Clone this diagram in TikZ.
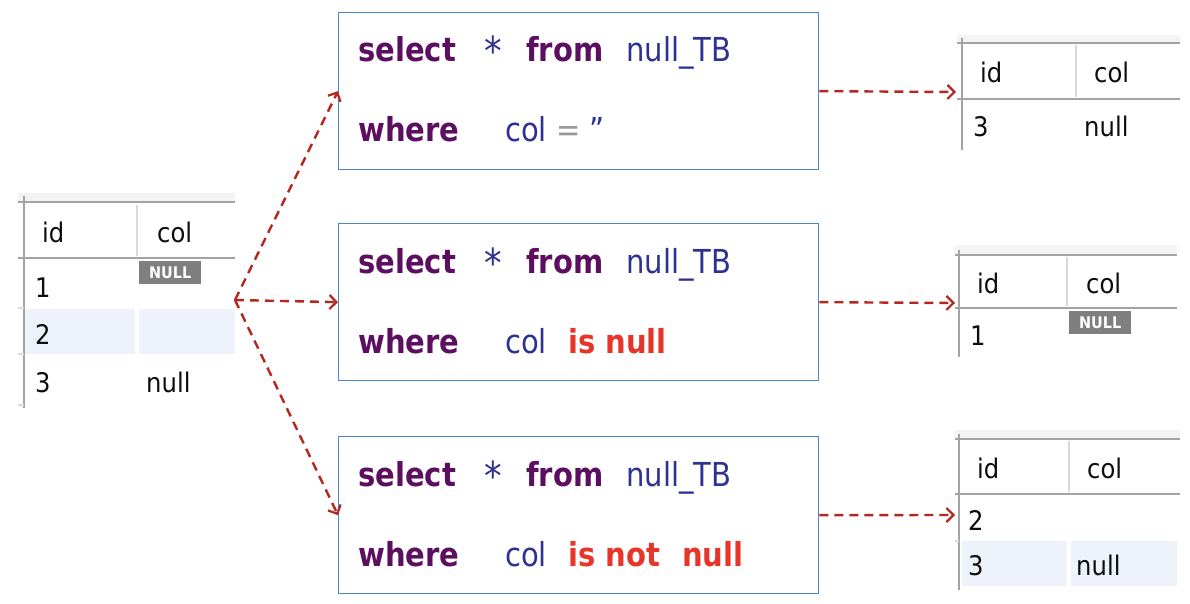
\documentclass[tikz,border=0pt]{standalone}
\usepackage{fontspec}
\usetikzlibrary{arrows.meta}
\newfontfamily\qfont[FakeStretch=0.88]{DejaVu Sans}
\newfontfamily\tfont[FakeStretch=0.9]{DejaVu Sans}
\definecolor{kwpurple}{HTML}{5C0F60}
\definecolor{nmblue}{HTML}{2E3192}
\definecolor{redc}{HTML}{E8352A}
\definecolor{boxblue}{HTML}{4A86C8}
\definecolor{arrred}{HTML}{B5261E}
\definecolor{tline}{HTML}{A3A3A3}
\definecolor{tdiv}{HTML}{DADADA}
\definecolor{tband}{HTML}{F3F3F3}
\definecolor{hl}{HTML}{EDF2FB}
\definecolor{badge}{HTML}{7F7F7F}
\begin{document}
\begin{tikzpicture}[x=1pt,y=-1pt,
  kw/.style={font=\qfont\fontsize{33}{38}\selectfont\bfseries, text=kwpurple, anchor=base west, inner sep=0},
  nm/.style={font=\qfont\fontsize{33}{38}\selectfont, text=nmblue, anchor=base west, inner sep=0},
  star/.style={font=\qfont\fontsize{40}{40}\selectfont, text=nmblue, anchor=base west, inner sep=0},
  rd/.style={font=\qfont\fontsize{33}{38}\selectfont\bfseries, text=redc, anchor=base west, inner sep=0},
  eq/.style={font=\qfont\fontsize{33}{38}\selectfont, text=black!40, anchor=base west, inner sep=0},
  cell/.style={font=\tfont\fontsize{27}{30}\selectfont, text=black!95, anchor=base west, inner sep=0},
  qbox/.style={draw=boxblue, line width=1.3pt, minimum width=480pt, minimum height=157pt, inner sep=0, anchor=north west},
  arr/.style={draw=arrred, line width=2.4pt, dash pattern=on 9pt off 6pt, -{Straight Barb[length=7pt,width=14pt,line width=2.2pt]}},
  tl/.style={draw=tline, line width=2.6pt},
  td/.style={draw=tdiv, line width=2pt},
  nullbadge/.style={fill=badge, text=white, font=\tfont\fontsize{16}{16}\selectfont\bfseries, inner sep=0, minimum width=62pt, minimum height=23pt, anchor=north west}
]
\useasboundingbox (0,0) rectangle (1190,604);

% ---------- left table ----------
\fill[tband] (18,193) rectangle (235,201);
\fill[hl] (25,309) rectangle (135,354);
\fill[hl] (139,309) rectangle (235,354);
\draw[tl] (18,202) -- (235,202);
\draw[tl] (18,258) -- (235,258);
\draw[tl] (24,196) -- (24,408);
\draw[td] (137,205) -- (137,256);
\draw[td] (18,308) -- (24,308);
\draw[td] (18,354) -- (24,354);
\draw[td] (18,405) -- (24,405);
\node[cell] (lid) at (42,242) {id};
\node[cell] (lcol) at (157,242) {col};
\node[cell] (l1) at (35,297) {1};
\node[nullbadge] (lnull1) at (139,261) {NULL};
\node[cell] (l2) at (35,344) {2};
\node[cell] (l3) at (35,392) {3};
\node[cell] (l3v) at (146,392) {null};
\coordinate (src) at (235,300);

% ---------- query boxes ----------
\node[qbox] (q1) at (338,12) {};
\node[qbox] (q2) at (338,223) {};
\node[qbox] (q3) at (338,436) {};

\node[kw] (q1s) at (358,62) {select};
\node[star] (q1a) at (484,66) {*};
\node[kw] (q1f) at (526,62) {from};
\node[nm] (q1t) at (626,62) {null\_TB};
\node[kw] (q1w) at (358,142) {where};
\node[nm] (q1c) at (505,142) {col};
\node[eq] (q1e) at (556,142) {=};
\node[nm] (q1q) at (589,142) {”};

\node[kw] (q2s) at (358,273) {select};
\node[star] (q2a) at (484,277) {*};
\node[kw] (q2f) at (526,273) {from};
\node[nm] (q2t) at (626,273) {null\_TB};
\node[kw] (q2w) at (358,353) {where};
\node[nm] (q2c) at (505,353) {col};
\node[rd] (q2n) at (568,353) {is null};

\node[kw] (q3s) at (358,486) {select};
\node[star] (q3a) at (484,490) {*};
\node[kw] (q3f) at (526,486) {from};
\node[nm] (q3t) at (626,486) {null\_TB};
\node[kw] (q3w) at (358,566) {where};
\node[nm] (q3c) at (505,566) {col};
\node[rd] (q3n) at (568,566) {is not};
\node[rd] (q3m) at (682,566) {null};

% ---------- right table 1 ----------
\fill[tband] (957,35) rectangle (1180,42);
\draw[tl] (957,43) -- (1180,43);
\draw[tl] (957,99) -- (1180,99);
\draw[tl] (962,38) -- (962,150);
\draw[td] (1076,45) -- (1076,97);
\node[cell] (r1id) at (980,83) {id};
\node[cell] (r1col) at (1094,83) {col};
\node[cell] (r13) at (973,137) {3};
\node[cell] (r13v) at (1084,137) {null};
\coordinate (r1in) at (956,92);

% ---------- right table 2 ----------
\fill[tband] (955,245) rectangle (1177,254);
\draw[tl] (955,255) -- (1177,255);
\draw[tl] (955,308) -- (1177,308);
\draw[tl] (959,250) -- (959,357);
\draw[td] (1067,257) -- (1067,306);
\node[cell] (r2id) at (977,293) {id};
\node[cell] (r2col) at (1086,293) {col};
\node[cell] (r21) at (970,345) {1};
\node[nullbadge] (r2null) at (1069,311) {NULL};
\coordinate (r2in) at (955,303);

% ---------- right table 3 ----------
\fill[tband] (955,430) rectangle (1180,438);
\fill[hl] (962,541) rectangle (1067,586);
\fill[hl] (1071,541) rectangle (1177,586);
\draw[tl] (955,439) -- (1180,439);
\draw[tl] (955,494) -- (1180,494);
\draw[tl] (959,434) -- (959,590);
\draw[td] (1069,441) -- (1069,492);
\draw[td] (955,541) -- (959,541);
\node[cell] (r3id) at (977,478) {id};
\node[cell] (r3col) at (1087,478) {col};
\node[cell] (r32) at (968,530) {2};
\node[cell] (r33) at (968,575) {3};
\node[cell] (r33v) at (1076,575) {null};
\coordinate (r3in) at (955,515);

% ---------- connectors ----------
\draw[arr] (src) -- (q1.west);
\draw[arr] (src) -- (q2.west);
\draw[arr] (src) -- (q3.west);
\draw[arr] (q1.east) -- (r1in);
\draw[arr] (q2.east) -- (r2in);
\draw[arr] (q3.east) -- (r3in);
\end{tikzpicture}
\end{document}
